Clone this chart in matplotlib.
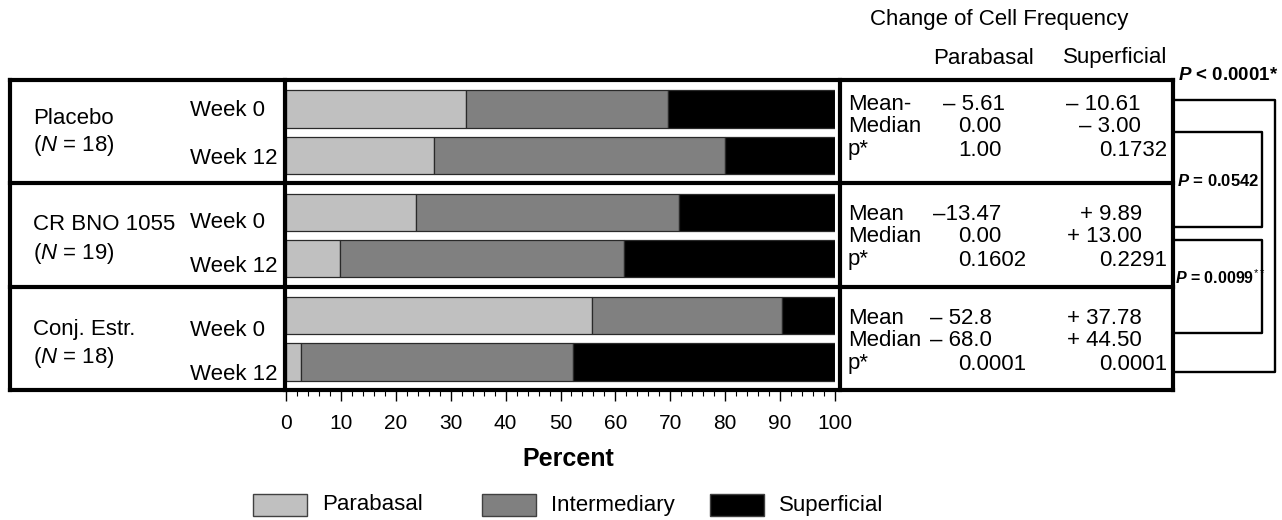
import numpy as np
import matplotlib
matplotlib.use("Agg")
import matplotlib.pyplot as plt
from matplotlib.patches import Rectangle

plt.rcParams["font.family"] = ["Liberation Sans", "DejaVu Sans"]
plt.rcParams["mathtext.fontset"] = "custom"
plt.rcParams["mathtext.rm"] = "Liberation Sans"
plt.rcParams["mathtext.it"] = "Liberation Sans:italic"
plt.rcParams["mathtext.bf"] = "Liberation Sans:bold"
plt.rcParams["mathtext.bfit"] = "Liberation Sans:italic:bold"

# data
groups = ["Placebo", "CR BNO 1055", "Conj. Estr."]
n_sizes = [18, 19, 18]
weeks = ["Week 0", "Week 12"]
cell_types = ["Parabasal", "Intermediary", "Superficial"]
colors = ["#c0c0c0", "#808080", "#000000"]

# one value per bar: Placebo W0, W12, CR BNO W0, W12, Conj W0, W12
parabasal = [32.8, 27.0, 23.7, 9.8, 55.7, 2.7]
intermediary = [36.8, 53.0, 47.9, 51.8, 34.6, 49.6]
superficial = [30.4, 20.0, 28.4, 38.4, 9.7, 47.7]

stat_names = [["Mean-", "Median", "p*"],
              ["Mean", "Median", "p*"],
              ["Mean", "Median", "p*"]]
para_change = [["\u2013 5.61", "0.00", "1.00"],
               ["\u201313.47", "0.00", "0.1602"],
               ["\u2013 52.8", "\u2013 68.0", "0.0001"]]
sup_change = [["\u2013 10.61", "\u2013 3.00", "0.1732"],
              ["+ 9.89", "+ 13.00", "0.2291"],
              ["+ 37.78", "+ 44.50", "0.0001"]]
p_labels = [r"$\mathbfit{P}$ < 0.0001*", r"$\mathbfit{P}$ = 0.0542",
            r"$\mathbfit{P}$ = 0.0099$^{**}$"]

W, H = 1282, 520
fig = plt.figure(figsize=(W / 100, H / 100), dpi=100)

# bar panel
ax = fig.add_axes([286 / W, 1 - 390 / H, 549 / W, 310 / H])
ypos = []
for g in range(len(groups)):
    ypos += [g + 0.28, g + 0.73]
ypos = np.array(ypos)
left = np.zeros(len(ypos))
for vals, col in zip([parabasal, intermediary, superficial], colors):
    ax.barh(ypos, vals, left=left, height=0.36, color=col,
            edgecolor="#2a2a2a", linewidth=0.9)
    left += np.array(vals)
ax.set_xlim(0, 100)
ax.set_ylim(3, 0)
ax.set_yticks([])
for s in ["top", "right", "left"]:
    ax.spines[s].set_visible(False)
ax.spines["bottom"].set_linewidth(0)
ax.set_xticks(np.arange(0, 101, 10))
ax.set_xticks(np.arange(0, 101, 2), minor=True)
ax.tick_params(axis="x", which="major", length=8, width=1, pad=9, labelsize=15)
ax.tick_params(axis="x", which="minor", length=4.5, width=0.8)
ax.set_xlabel("Percent", fontsize=18, fontweight="bold")
ax.xaxis.set_label_coords(0.515, -0.185)
ax.set_facecolor("none")

# overlay in pixel coordinates for frame, table and brackets
ov = fig.add_axes([0, 0, 1, 1])
ov.set_xlim(0, W)
ov.set_ylim(H, 0)
ov.axis("off")

lw_thick = 3
row_lines = [80, 183, 287, 390]
for y in row_lines:
    ov.plot([10, 1173], [y, y], color="black", lw=lw_thick, solid_capstyle="projecting")
for x in [10, 285, 840, 1173]:
    ov.plot([x, x], [80, 390], color="black", lw=lw_thick, solid_capstyle="projecting")

fs = 16
name_y = [118, 224, 330]
n_y = [146, 253, 358]
week_y = [[110, 159], [222, 267], [330, 375]]
for g, name in enumerate(groups):
    ov.text(33, name_y[g], name, fontsize=fs, va="center", ha="left")
    ov.text(33, n_y[g], "($N$ = %d)" % n_sizes[g], fontsize=fs, va="center", ha="left")
    for k, wk in enumerate(weeks):
        ov.text(190, week_y[g][k], wk, fontsize=fs, va="center", ha="left")

# change table
ov.text(870, 20, "Change of Cell Frequency", fontsize=fs, va="center", ha="left")
ov.text(933, 58, "Parabasal", fontsize=fs, va="center", ha="left")
ov.text(1063, 58, "Superficial", fontsize=fs, va="center", ha="left")
stat_y = [[104, 127, 150], [214, 237, 260], [318, 341, 364]]
para_x = [[943, 958, 958], [933, 958, 958], [930, 930, 958]]
sup_x = [[1141, 1141, 1167], [1142, 1142, 1167], [1142, 1142, 1167]]
for g in range(len(groups)):
    for r in range(3):
        y = stat_y[g][r]
        ov.text(848, y, stat_names[g][r], fontsize=fs, va="center", ha="left")
        ov.text(para_x[g][r], y, para_change[g][r], fontsize=fs, va="center", ha="left")
        ov.text(sup_x[g][r], y, sup_change[g][r], fontsize=fs, va="center", ha="right")

# comparison brackets
lw_b = 1.7
brackets = [(100, 372, 1275), (132, 227, 1262), (240, 333, 1262)]
for y0, y1, xr in brackets:
    ov.plot([1173, xr, xr, 1173], [y0, y0, y1, y1], color="black", lw=lw_b)
p_pos = [(1178, 76, 13.5), (1177, 181, 12), (1175, 278, 11.5)]
for (x, y, size), lab in zip(p_pos, p_labels):
    ov.text(x, y, lab, fontsize=size, fontweight="bold", va="center", ha="left")

# legend
leg_x = [253, 482, 710]
for x, col, lab in zip(leg_x, colors, cell_types):
    ov.add_patch(Rectangle((x, 494), 54, 22, facecolor=col, edgecolor="#404040", lw=1))
    ov.text(x + 69, 505, lab, fontsize=fs, va="center", ha="left")

fig.savefig("out.png", dpi=100)
